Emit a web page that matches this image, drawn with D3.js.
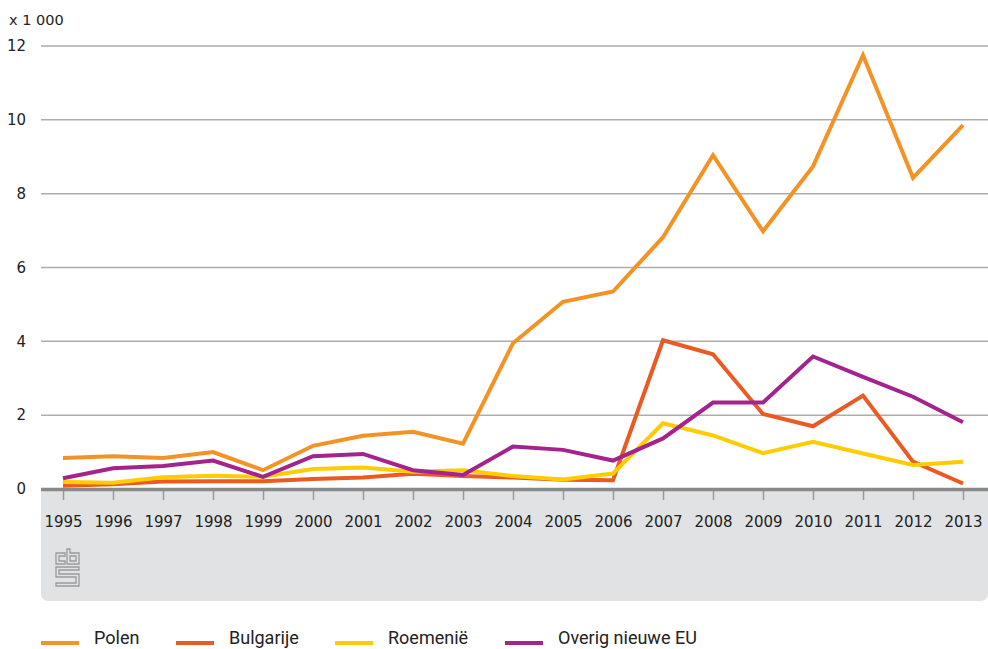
<!DOCTYPE html>
<html><head><meta charset="utf-8">
<script src="https://cdn.jsdelivr.net/npm/d3@7"></script>
<style>body{margin:0;background:#fff}svg{display:block}</style>
</head><body>
<svg id="c" width="988" height="649"></svg>
<script>
const years = ["1995","1996","1997","1998","1999","2000","2001","2002","2003","2004","2005","2006","2007","2008","2009","2010","2011","2012","2013"];
const polen     = [0.84,0.89,0.84,1.00,0.51,1.17,1.44,1.55,1.23,3.95,5.07,5.35,6.82,9.04,6.98,8.74,11.75,8.43,9.86];
const bulgarije = [0.09,0.13,0.20,0.21,0.21,0.27,0.31,0.41,0.35,0.31,0.25,0.24,4.03,3.65,2.03,1.70,2.53,0.74,0.15];
const roemenie  = [0.19,0.17,0.32,0.36,0.33,0.54,0.58,0.47,0.51,0.35,0.26,0.42,1.78,1.45,0.97,1.28,0.96,0.65,0.74];
const overig    = [0.29,0.56,0.62,0.77,0.33,0.89,0.95,0.51,0.38,1.15,1.06,0.77,1.37,2.34,2.34,3.59,3.04,2.50,1.81];
const yTicks = [0,2,4,6,8,10,12];
const seriesNames = ["Polen","Bulgarije","Roemenië","Overig nieuwe EU"];
const seriesColors = ["#f39325","#ea5b24","#ffcc00","#a5238c"];
const seriesData = [polen,bulgarije,roemenie,overig];

const svg = d3.select("#c");
const x = d3.scalePoint().domain(years).range([63,963]);
const y = d3.scaleLinear().domain([0,12]).range([489,46]);
const left = 41, right = 988;

// gray panel below axis
svg.append("path")
  .attr("d", `M${left},489 H${right} V593 Q${right},601 ${right-8},601 H${left+8} Q${left},601 ${left},593 Z`)
  .attr("fill","#e1e2e4");

// gridlines
svg.append("g").selectAll("line").data(yTicks.filter(d=>d>0)).join("line")
  .attr("x1",left).attr("x2",right)
  .attr("y1",d=>y(d)).attr("y2",d=>y(d))
  .attr("stroke","#adadad").attr("stroke-width",1.5);

// y labels
svg.append("g").selectAll("text").data(yTicks).join("text")
  .attr("x",26).attr("y",d=>y(d)).attr("dy","0.35em")
  .attr("text-anchor","end")
  .attr("font-family","DejaVu Sans").attr("font-size",15).attr("fill","#222")
  .text(d=>d);
svg.append("text").attr("x",9).attr("y",25)
  .attr("font-family","DejaVu Sans").attr("font-size",14.5).attr("fill","#222")
  .text("x 1 000");

// x axis
const xa = svg.append("g").attr("transform","translate(0,491)")
  .call(d3.axisBottom(x).tickSize(9).tickPadding(16).tickSizeOuter(0));
xa.select(".domain").remove();
xa.selectAll(".tick line").attr("stroke","#9a9a9a").attr("stroke-width",1.5);
xa.selectAll(".tick text").attr("font-family","DejaVu Sans").attr("font-size",15).attr("fill","#222");
svg.append("line").attr("x1",left).attr("x2",right).attr("y1",489.5).attr("y2",489.5)
  .attr("stroke","#87898b").attr("stroke-width",3.5);

// lines
const line = d3.line().x((d,i)=>x(years[i])).y(d=>y(d));
svg.append("g").selectAll("path").data(seriesData).join("path")
  .attr("d",d=>line(d)).attr("fill","none")
  .attr("stroke",(d,i)=>seriesColors[i]).attr("stroke-width",4)
  .attr("stroke-linejoin","miter");

// cbs logo
const logo = svg.append("g").attr("transform","translate(55,548)")
  .attr("fill","none").attr("stroke","#9a9a9a").attr("stroke-width",1.3);
logo.append("path").attr("d","M1,5 H10 V8 H4 V13 H10 V16 H1 Z");
logo.append("path").attr("d","M12,1 H15 V5 H24 V16 H12 Z M15,8 V13 H21 V8 Z");
logo.append("path").attr("d","M1,19 H24 V22 H4 V26 H24 V38 H1 V35 H21 V29 H1 Z");

// legend
const lx = [41,176,335,505];
const lg = svg.append("g").selectAll("g").data(seriesNames).join("g")
  .attr("transform",(d,i)=>`translate(${lx[i]},0)`);
lg.append("line").attr("x1",0).attr("x2",38).attr("y1",643).attr("y2",643)
  .attr("stroke",(d,i)=>seriesColors[i]).attr("stroke-width",4);
lg.append("text").attr("x",53).attr("y",644)
  .attr("font-family","Roboto, sans-serif").attr("font-size",18)
  .attr("fill","#222").text(d=>d);
</script>
</body></html>
